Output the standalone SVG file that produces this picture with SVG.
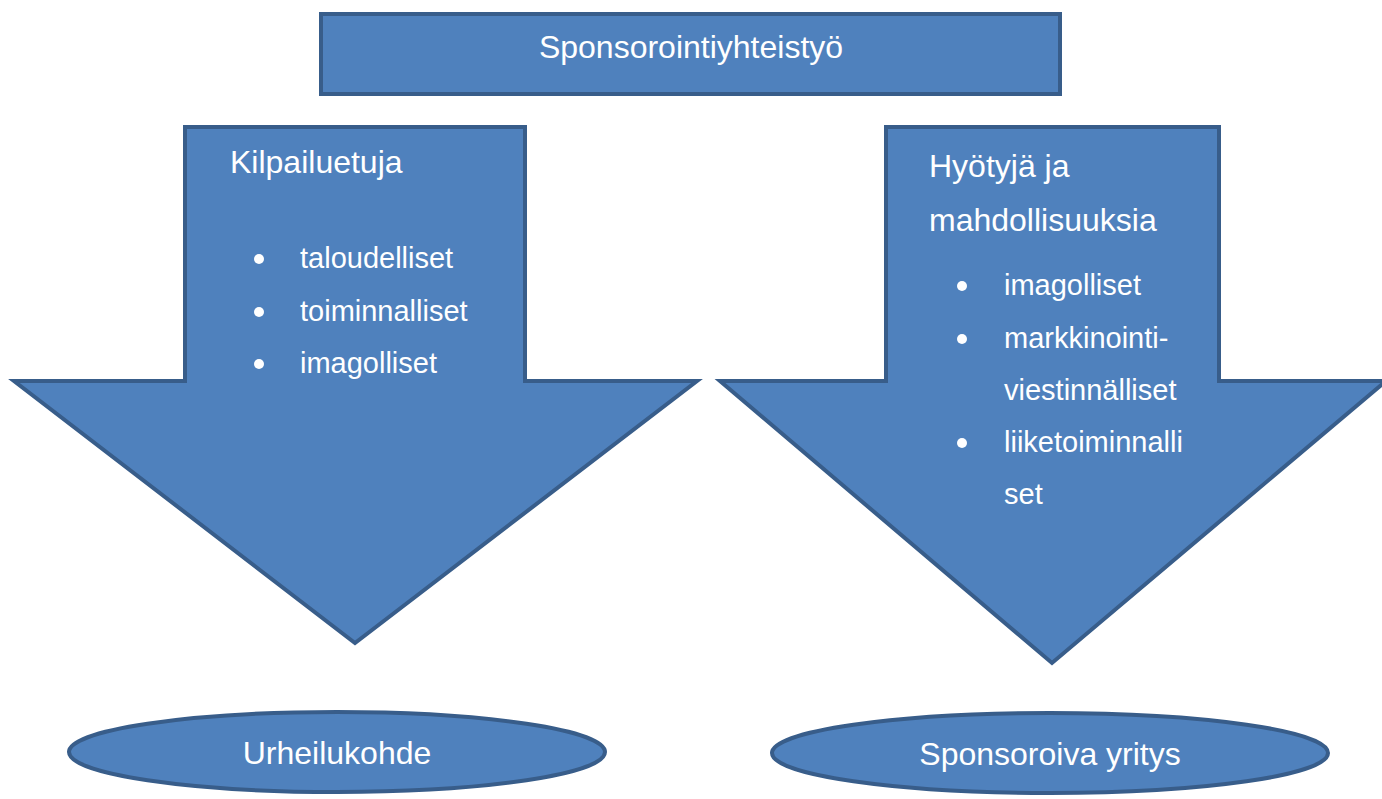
<svg xmlns="http://www.w3.org/2000/svg" width="1382" height="799" viewBox="0 0 1382 799">
<style>
.shape{fill:#4F81BD;stroke:#385D8A;stroke-width:4;stroke-linejoin:miter}
.t{font-family:"Liberation Sans",Arial,sans-serif;font-size:29px;fill:#FFFFFF}
.h{font-size:32px}
.c{text-anchor:middle}
</style>
<rect width="1382" height="799" fill="#FFFFFF"/>
<g id="top">
<rect class="shape" x="321" y="14" width="739" height="80"/>
<text class="t h c" x="691" y="58">Sponsorointiyhteistyö</text>
</g>
<g id="left-arrow">
<polygon class="shape" points="185,127 525,127 525,381 697,381 355,643 14,381 185,381"/>
<text class="t h" x="230" y="173">Kilpailuetuja</text>
<circle cx="259" cy="259" r="5" fill="#FFFFFF"/>
<text class="t" x="300" y="268">taloudelliset</text>
<circle cx="259" cy="312" r="5" fill="#FFFFFF"/>
<text class="t" x="300" y="321">toiminnalliset</text>
<circle cx="259" cy="364" r="5" fill="#FFFFFF"/>
<text class="t" x="300" y="373">imagolliset</text>
</g>
<g id="right-arrow">
<polygon class="shape" points="886,127 1219,127 1219,381 1386,381 1052,663 720,381 886,381"/>
<text class="t h" x="929" y="177">Hyötyjä ja</text>
<text class="t h" x="929" y="231">mahdollisuuksia</text>
<circle cx="962" cy="286" r="5" fill="#FFFFFF"/>
<text class="t" x="1004" y="295">imagolliset</text>
<circle cx="962" cy="339" r="5" fill="#FFFFFF"/>
<text class="t" x="1004" y="348">markkinointi-</text>
<text class="t" x="1004" y="400">viestinnälliset</text>
<circle cx="962" cy="443" r="5" fill="#FFFFFF"/>
<text class="t" x="1004" y="452">liiketoiminnalli</text>
<text class="t" x="1004" y="504">set</text>
</g>
<g id="urheilukohde">
<ellipse class="shape" cx="337" cy="752" rx="268" ry="40"/>
<text class="t h c" x="337" y="764">Urheilukohde</text>
</g>
<g id="sponsoroiva-yritys">
<ellipse class="shape" cx="1050" cy="753" rx="278" ry="40"/>
<text class="t h c" x="1050" y="765">Sponsoroiva yritys</text>
</g>
<g id="connectors"></g>
</svg>
